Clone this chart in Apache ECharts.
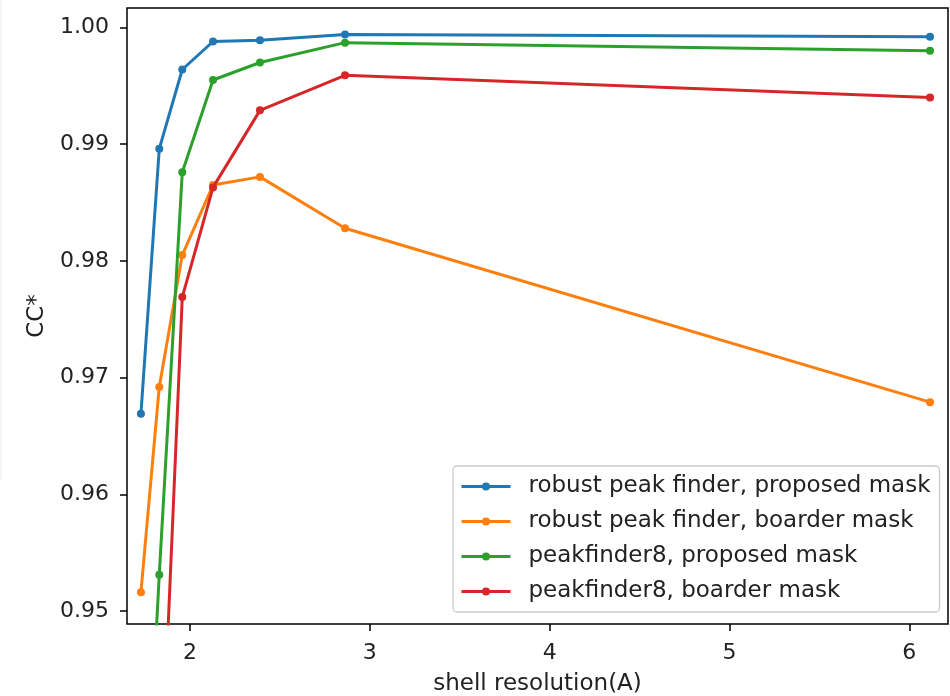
<!DOCTYPE html>
<html>
<head>
<meta charset="utf-8">
<script src="https://cdn.jsdelivr.net/npm/echarts@6/dist/echarts.min.js"></script>
<style>
  html, body { margin: 0; padding: 0; background: #fff; }
  #chart { width: 950px; height: 696px; }
</style>
</head>
<body>
<div id="chart"></div>
<script>
// Shell resolution (Å) of each resolution bin
const shellResolution = [1.727, 1.829, 1.957, 2.128, 2.389, 2.862, 6.115];

// CC* per shell for each finder / mask combination
const robustProposed = [0.9669, 0.9896, 0.9964, 0.9988, 0.9989, 0.9994, 0.9992];
const robustBoarder  = [0.9516, 0.9692, 0.9805, 0.9865, 0.9872, 0.9828, 0.9679];
const pf8Proposed    = [0.9232, 0.9531, 0.9876, 0.9955, 0.9970, 0.9987, 0.9980];
const pf8Boarder     = [0.9050, 0.9309, 0.9769, 0.9863, 0.9929, 0.9959, 0.9940];

const seriesNames = [
  'robust peak finder, proposed mask',
  'robust peak finder, boarder mask',
  'peakfinder8, proposed mask',
  'peakfinder8, boarder mask'
];
const seriesColors = ['#1f77b4', '#ff7f0e', '#2ca02c', '#d62728'];

const xTicks = [2, 3, 4, 5, 6];
const yTicks = [0.95, 0.96, 0.97, 0.98, 0.99, 1.00];

const FONT = 'DejaVu Sans';
const FS = 22;      // tick labels
const FS_TEXT = 23; // axis names and legend
const allValues = [robustProposed, robustBoarder, pf8Proposed, pf8Boarder];

const chart = echarts.init(document.getElementById('chart'), null, { renderer: 'canvas' });

chart.setOption({
  animation: false,
  backgroundColor: '#ffffff',
  textStyle: { fontFamily: FONT },
  grid: {
    left: 127, right: 2, top: 8, bottom: 72,
    outerBoundsMode: 'none',
    containLabel: false,
    show: true, borderColor: '#000', borderWidth: 1.5, backgroundColor: 'transparent'
  },
  xAxis: {
    type: 'value',
    min: 1.6496, max: 6.215,
    name: 'shell resolution(A)',
    nameLocation: 'middle',
    nameGap: 49,
    nameTextStyle: { fontFamily: FONT, fontSize: FS_TEXT, color: '#222' },
    axisLine: { show: false },
    splitLine: { show: false },
    axisTick: { show: true, length: 7, inside: false, customValues: xTicks,
                lineStyle: { color: '#000', width: 1.5 } },
    axisLabel: { customValues: xTicks, margin: 18, fontFamily: FONT, fontSize: FS, color: '#222',
                 formatter: v => String(v) }
  },
  yAxis: {
    type: 'value',
    min: 0.94889, max: 1.00167,
    name: 'CC*',
    nameLocation: 'middle',
    nameGap: 78,
    nameRotate: 90,
    nameTextStyle: { fontFamily: FONT, fontSize: FS_TEXT, color: '#222' },
    axisLine: { show: false },
    splitLine: { show: false },
    axisTick: { show: true, length: 7, inside: false, customValues: yTicks,
                lineStyle: { color: '#000', width: 1.5 } },
    axisLabel: { customValues: yTicks, margin: 18, fontFamily: FONT, fontSize: FS, color: '#222',
                 formatter: v => v.toFixed(2) }
  },
  legend: {
    orient: 'vertical',
    left: 453, top: 466,
    padding: [9, 9, 9, 7],
    itemGap: 12,
    itemWidth: 49,
    itemHeight: 10,
    backgroundColor: 'rgba(255,255,255,0.8)',
    borderColor: '#cccccc',
    borderWidth: 1.3,
    borderRadius: 4,
    lineStyle: { width: 3 },
    textStyle: { fontFamily: FONT, fontSize: FS_TEXT, color: '#222', lineHeight: 23, padding: [0, 0, 0, 13] },
    data: seriesNames
  },
  graphic: [{
    type: 'line',
    shape: { x1: 1, y1: 0, x2: 1, y2: 480 },
    style: { stroke: '#efefef', lineWidth: 1 },
    silent: true
  }],
  series: seriesNames.map((name, i) => ({
    name,
    type: 'line',
    data: shellResolution.map((x, j) => [x, allValues[i][j]]),
    color: seriesColors[i],
    lineStyle: { width: 3, color: seriesColors[i] },
    itemStyle: { color: seriesColors[i] },
    symbol: 'circle',
    symbolSize: 8,
    showSymbol: true,
    clip: true,
    z: 2 + i
  }))
});
</script>
</body>
</html>
